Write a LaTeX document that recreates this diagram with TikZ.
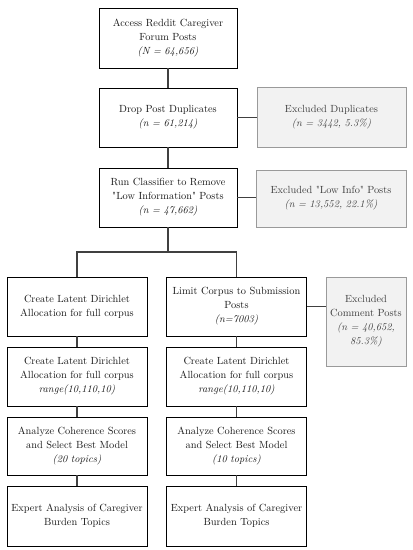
\documentclass[tikz,border=0pt]{standalone}
\usepackage{fontspec}
\setmainfont{Latin Modern Roman}[Ligatures=TeXOff]
\usetikzlibrary{calc}
\definecolor{exfill}{HTML}{F2F2F2}
\definecolor{exdraw}{HTML}{9A9A9A}
\definecolor{extext}{HTML}{404040}
\definecolor{maintext}{HTML}{1A1A1A}
\definecolor{linecol}{HTML}{404040}
\begin{document}
\begin{tikzpicture}[x=1bp,y=-1bp,
  every node/.style={font=\fontsize{10.4}{14}\selectfont},
  mainbox/.style={draw=black,line width=0.9pt,fill=white,align=center,text=maintext,inner sep=1pt},
  exbox/.style={draw=exdraw,line width=1pt,fill=exfill,align=center,text=extext,inner sep=1pt},
  conn/.style={draw=linecol,line width=1.2pt}]
\useasboundingbox (0,0) rectangle (412,550);
% top column
\node[mainbox,minimum width=138bp,minimum height=60bp,text width=134bp] (b1) at (168,38) {Access Reddit Caregiver\\Forum Posts\\\textit{(N = 64,656)}};
\node[mainbox,minimum width=138bp,minimum height=59bp,text width=134bp] (b2) at (168,117.5) {Drop Post Duplicates\\\textit{(n = 61,214)}};
\node[mainbox,minimum width=138bp,minimum height=59bp,text width=134bp] (b3) at (168,197.5) {Run Classifier to Remove\\"Low Information" Posts\\\textit{(n = 47,662)}};
\node[exbox,minimum width=149bp,minimum height=59bp,text width=145bp] (e1) at (331.5,117.5) {Excluded Duplicates\\\textit{(n = 3442, 5.3\%)}};
\node[exbox,minimum width=150bp,minimum height=57bp,text width=146bp] (e2) at (331,198.5) {Excluded "Low Info" Posts\\\textit{(n = 13,552, 22.1\%)}};
% left column
\node[mainbox,minimum width=140bp,minimum height=59bp,text width=136bp] (l1) at (77,306.5) {Create Latent Dirichlet\\Allocation for full corpus};
\node[mainbox,minimum width=140bp,minimum height=59bp,text width=136bp] (l2) at (77,376.5) {Create Latent Dirichlet\\Allocation for full corpus\\\textit{range(10,110,10)}};
\node[mainbox,minimum width=140bp,minimum height=58bp,text width=136bp] (l3) at (77,446) {Analyze Coherence Scores\\and Select Best Model\\\textit{(20 topics)}};
\node[mainbox,minimum width=140bp,minimum height=60bp,text width=136bp] (l4) at (77,516) {Expert Analysis of Caregiver\\Burden Topics};
% right column
\node[mainbox,minimum width=140bp,minimum height=59bp,text width=136bp] (r1) at (236.5,306.5) {Limit Corpus to Submission\\Posts\\\textit{(n=7003)}};
\node[mainbox,minimum width=140bp,minimum height=59bp,text width=136bp] (r2) at (236.5,376.5) {Create Latent Dirichlet\\Allocation for full corpus\\\textit{range(10,110,10)}};
\node[mainbox,minimum width=140bp,minimum height=58bp,text width=136bp] (r3) at (236.5,446) {Analyze Coherence Scores\\and Select Best Model\\\textit{(10 topics)}};
\node[mainbox,minimum width=140bp,minimum height=60bp,text width=136bp] (r4) at (236.5,516) {Expert Analysis of Caregiver\\Burden Topics};
\node[exbox,minimum width=80bp,minimum height=89bp,text width=78bp] (e3) at (366,321.5) {Excluded\\Comment Posts\\\textit{(n = 40,652,}\\\textit{85.3\%)}};
\coordinate (split) at (168,252);
% connectors
\draw[conn] (b1.south) -- (b2.north);
\draw[conn] (b2.south) -- (b3.north);
\draw[conn] (b2.east) -- (e1.west);
\draw[conn] (b3.east) -- (b3.east -| e2.west);
\draw[conn] (b3.south) -- (split);
\draw[conn] (l1.north) |- (split) -| (r1.north);
\draw[conn] (r1.east) -- (r1.east -| e3.west);
\draw[conn] (l1.south) -- (l2.north);
\draw[conn] (l2.south) -- (l3.north);
\draw[conn] (l3.south) -- (l4.north);
\draw[conn] (r1.south) -- (r2.north);
\draw[conn] (r2.south) -- (r3.north);
\draw[conn] (r3.south) -- (r4.north);
\end{tikzpicture}
\end{document}
